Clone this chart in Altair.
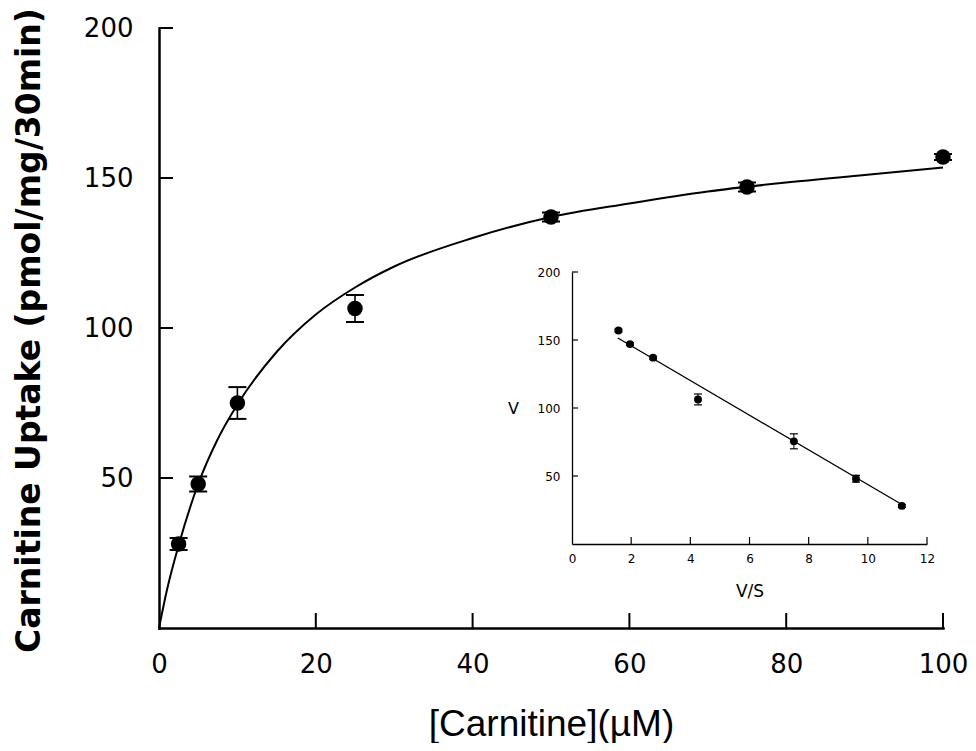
import altair as alt
import pandas as pd

# ---- main panel data ----
conc = [2.5, 5, 10, 25, 50, 75, 100]
uptake = [28, 48, 75, 106.5, 137, 147, 157]
uptake_err = [2, 2.5, 5.3, 4.5, 1.5, 1.5, 1]

# fitted saturation curve, sampled by eye along the drawn line
curve_x = [0, 1, 2.5, 5, 7.5, 10, 15, 20, 25, 30, 40, 50, 60, 70, 80, 90, 100]
curve_y = [0, 12.5, 27.5, 48, 63, 74.5, 92, 104.5, 113.5, 120.5, 130, 137, 141.5, 145.5, 148.5, 151, 153.5]

# ---- inset (Eadie-Hofstee) data ----
vs = [1.57, 1.96, 2.74, 4.26, 7.5, 9.6, 11.15]
v = [157, 147, 137, 106.3, 75.5, 48, 28]
v_err = [1, 1, 1, 4, 5.5, 2.5, 1]
fit_vs = [1.55, 11.15]
fit_v = [151.5, 29]

main_xticks = [0, 20, 40, 60, 80, 100]
main_yticks = [50, 100, 150, 200]
inset_xticks = [0, 2, 4, 6, 8, 10, 12]
inset_yticks = [50, 100, 150, 200]

W, H = 784, 600
BLACK = "black"

main_df = pd.DataFrame({"c": conc, "u": uptake,
                        "lo": [a - b for a, b in zip(uptake, uptake_err)],
                        "hi": [a + b for a, b in zip(uptake, uptake_err)]})
curve_df = pd.DataFrame({"c": curve_x, "u": curve_y})
inset_df = pd.DataFrame({"vs": vs, "v": v,
                         "lo": [a - b for a, b in zip(v, v_err)],
                         "hi": [a + b for a, b in zip(v, v_err)]})
fit_df = pd.DataFrame({"vs": fit_vs, "v": fit_v})
mxt_df = pd.DataFrame({"t": main_xticks[1:]})
myt_df = pd.DataFrame({"t": main_yticks})
ixt_df = pd.DataFrame({"t": inset_xticks[1:]})
iyt_df = pd.DataFrame({"t": inset_yticks})

mx = alt.Scale(domain=[0, 100], nice=False, zero=False)
my = alt.Scale(domain=[0, 200], nice=False, zero=False)
ix = alt.Scale(domain=[0, 12], range=[413, 768], nice=False, zero=False)
iy = alt.Scale(domain=[0, 200], range=[516, 244], nice=False, zero=False)

main_x_axis = alt.Axis(values=main_xticks, title="[Carnitine](µM)", orient="bottom",
                       ticks=False, tickSize=0, grid=False, labelFlush=False,
                       domainColor=BLACK, domainWidth=2.5, domainCap="square",
                       labelFont="DejaVu Sans", labelFontSize=26, labelColor=BLACK,
                       labelPadding=23,
                       titleFont="Liberation Sans", titleFontSize=37, titleFontWeight="normal",
                       titleColor=BLACK, titleX=392, titleY=107, titleAlign="center",
                       titleBaseline="alphabetic")
main_y_axis = alt.Axis(values=main_yticks, title="Carnitine Uptake (pmol/mg/30min)", orient="left",
                       ticks=False, tickSize=0, grid=False, labelFlush=False,
                       domainColor=BLACK, domainWidth=2.5, domainCap="square",
                       labelFont="DejaVu Sans", labelFontSize=26, labelColor=BLACK,
                       labelPadding=26,
                       titleFont="DejaVu Sans", titleFontSize=33, titleFontWeight="bold",
                       titleColor=BLACK, titleAngle=270, titleX=-130, titleY=302,
                       titleAlign="center", titleBaseline="middle")
inset_x_axis = alt.Axis(values=inset_xticks, title="V/S", orient="bottom", offset=-84,
                        ticks=False, tickSize=0, grid=False, labelFlush=False,
                        domainColor=BLACK, domainWidth=1.3,
                        labelFont="DejaVu Sans", labelFontSize=12, labelColor=BLACK,
                        labelPadding=9,
                        titleFont="DejaVu Sans", titleFontSize=17, titleFontWeight="normal",
                        titleColor=BLACK, titleX=590.5, titleY=47, titleAlign="center",
                        titleBaseline="middle")
inset_y_axis = alt.Axis(values=inset_yticks, title="V", orient="left", offset=-413,
                        ticks=False, tickSize=0, grid=False, labelFlush=False,
                        domainColor=BLACK, domainWidth=1.3,
                        labelFont="DejaVu Sans", labelFontSize=12, labelColor=BLACK,
                        labelPadding=12,
                        titleFont="DejaVu Sans", titleFontSize=16, titleFontWeight="normal",
                        titleColor=BLACK, titleAngle=0, titleX=-59, titleY=380,
                        titleAlign="center", titleBaseline="middle")

MX = lambda f: alt.X(f, type="quantitative", scale=mx, axis=main_x_axis)
MY = lambda f: alt.Y(f, type="quantitative", scale=my, axis=main_y_axis)
IX = lambda f: alt.X(f, type="quantitative", scale=ix, axis=inset_x_axis)
IY = lambda f: alt.Y(f, type="quantitative", scale=iy, axis=inset_y_axis)

# ---- main layers ----
curve = alt.Chart(curve_df).mark_line(color=BLACK, strokeWidth=2, interpolate="monotone").encode(
    x=MX("c"), y=MY("u"))
m_err = alt.Chart(main_df).mark_rule(color=BLACK, strokeWidth=1.6).encode(
    x=MX("c"), y=MY("lo"), y2="hi")
m_cap_lo = alt.Chart(main_df).mark_tick(color=BLACK, orient="horizontal", size=18, thickness=2, opacity=1).encode(
    x=MX("c"), y=MY("lo"))
m_cap_hi = alt.Chart(main_df).mark_tick(color=BLACK, orient="horizontal", size=18, thickness=2, opacity=1).encode(
    x=MX("c"), y=MY("hi"))
m_pts = alt.Chart(main_df).mark_circle(color=BLACK, size=240, opacity=1).encode(
    x=MX("c"), y=MY("u"))
m_xt = alt.Chart(mxt_df).mark_rule(color=BLACK, strokeWidth=2).encode(
    x=MX("t"), y=alt.value(H), y2=alt.value(H - 15))
m_yt = alt.Chart(myt_df).mark_rule(color=BLACK, strokeWidth=2).encode(
    y=MY("t"), x=alt.value(0), x2=alt.value(14))
main = alt.layer(m_xt, m_yt, curve, m_err, m_cap_lo, m_cap_hi, m_pts)

# ---- inset layers ----
fit = alt.Chart(fit_df).mark_line(color=BLACK, strokeWidth=1.3).encode(x=IX("vs"), y=IY("v"))
i_err = alt.Chart(inset_df).mark_rule(color=BLACK, strokeWidth=1).encode(x=IX("vs"), y=IY("lo"), y2="hi")
i_cap_lo = alt.Chart(inset_df).mark_tick(color=BLACK, orient="horizontal", size=8, thickness=1.2, opacity=1).encode(
    x=IX("vs"), y=IY("lo"))
i_cap_hi = alt.Chart(inset_df).mark_tick(color=BLACK, orient="horizontal", size=8, thickness=1.2, opacity=1).encode(
    x=IX("vs"), y=IY("hi"))
i_pts = alt.Chart(inset_df).mark_circle(color=BLACK, size=62, opacity=1).encode(x=IX("vs"), y=IY("v"))
i_xt = alt.Chart(ixt_df).mark_rule(color=BLACK, strokeWidth=1.2).encode(
    x=IX("t"), y=alt.value(516), y2=alt.value(509))
i_yt = alt.Chart(iyt_df).mark_rule(color=BLACK, strokeWidth=1.2).encode(
    y=IY("t"), x=alt.value(413), x2=alt.value(419))
inset = alt.layer(i_xt, i_yt, fit, i_err, i_cap_lo, i_cap_hi, i_pts)

chart = alt.layer(main, inset).resolve_scale(x="independent", y="independent").properties(
    width=W, height=H,
    autosize=alt.AutoSizeParams(type="none"),
    padding={"left": 151, "top": 20, "right": 25, "bottom": 115},
    background="white",
).configure_view(stroke=None)

chart.save("out.html", embed_options={"renderer": "svg", "actions": False})
